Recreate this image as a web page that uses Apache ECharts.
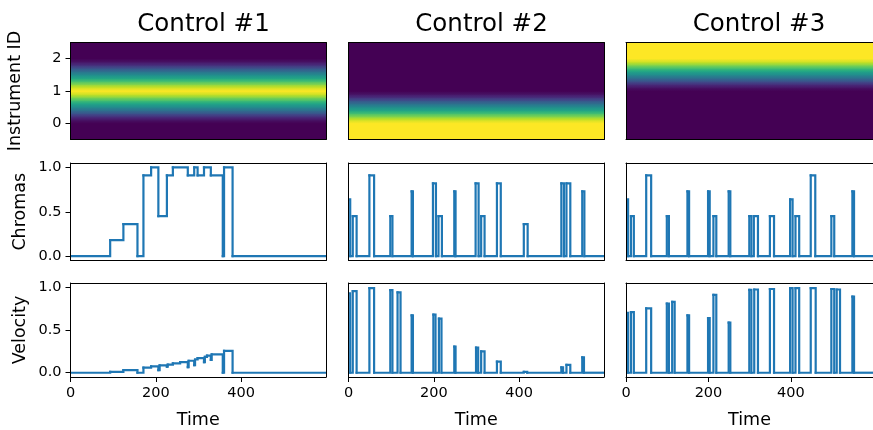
<!DOCTYPE html>
<html><head><meta charset="utf-8">
<script src="https://cdn.jsdelivr.net/npm/echarts@6/dist/echarts.min.js"></script>
<style>html,body{margin:0;padding:0;background:#fff}#c{width:873px;height:430px}</style>
</head><body><div id="c"></div>
<script>
// ---------- data ----------
const titles = ['Control #1', 'Control #2', 'Control #3'];
const rowNames = ['Instrument ID', 'Chromas', 'Velocity'];
const timeTicks = [0, 200, 400];
const unitTicks = [0, 0.5, 1];
const instrumentTicks = [0, 1, 2];
const timeMax = 599;

// heat-map rows (instrument axis) and intensity profiles
const instrumentY = [-0.5,-0.4,-0.3,-0.2,-0.1,0,0.1,0.2,0.3,0.4,0.5,0.6,0.7,0.8,0.9,1.0,
  1.1,1.2,1.3,1.4,1.5,1.6,1.7,1.8,1.9,2.0,2.1,2.2,2.3,2.4,2.5];
const profile1 = [0,0,0,0,0,0,0.05,0.13,0.25,0.37,0.48,0.58,0.7,0.82,0.93,1,
  0.93,0.82,0.7,0.58,0.48,0.37,0.25,0.13,0.05,0,0,0,0,0,0];
const profile2 = [1,1,1,1,1,1,0.93,0.82,0.7,0.58,0.48,0.37,0.25,0.13,0.05,0,
  0,0,0,0,0,0,0,0,0,0,0,0,0,0,0];
const profile3 = [0,0,0,0,0,0,0,0,0,0,0,0,0,0,0,0,
  0.05,0.13,0.25,0.37,0.48,0.58,0.7,0.82,0.93,1,1,1,1,1,1];

// step series: [time, value] change points
const chroma1 = [[0,0],[93,0.18],[124,0.36],[157,0],[171,0.91],[189,1],[206,0.45],[226,0.91],[240,1],
  [275,0.91],[290,1],[298,0.91],[313,1],[329,0.91],[357,0],[360,1],[380,0],[599,0]];
const velocity1 = [[0,0],[93,0.01],[124,0.03],[157,0],[171,0.06],[189,0.075],[206,0.03],[209,0.085],
  [226,0.07],[228,0.095],[240,0.11],[257,0.125],[275,0.065],[277,0.14],[290,0.09],[292,0.155],[298,0.17],
  [313,0.125],[315,0.185],[320,0.2],[329,0.15],[331,0.215],[357,0],[360,0.255],[380,0],[599,0]];
const chroma2 = [[0,0.64],[4,0],[10,0.45],[19,0],[49,0.91],[60,0],[98,0.45],[103,0],[148,0.73],[151,0],
  [198,0.82],[205,0],[211,0.45],[219,0],[248,0.73],[251,0],[298,0.82],[305,0],[311,0.45],[319,0],
  [348,0.82],[357,0],[411,0.36],[420,0],[499,0.82],[505,0],[511,0.82],[520,0],[548,0.73],[553,0],[599,0]];
const velocity2 = [[0,0.93],[4,0],[10,0.955],[19,0],[49,0.99],[60,0],[98,0.966],[103,0],[115,0.94],[122,0],
  [148,0.67],[151,0],[199,0.68],[204,0],[212,0.634],[218,0],[248,0.306],[251,0],[299,0.295],[304,0],
  [311,0.25],[319,0],[348,0.13],[357,0],[411,0.011],[419,0],[499,0.063],[503,0],[511,0.093],[520,0],
  [548,0.18],[552,0],[599,0]];
const chroma3 = [[0,0.64],[5,0],[12,0.45],[19,0],[49,0.91],[61,0],[99,0.45],[104,0],[149,0.73],[153,0],
  [199,0.73],[203,0],[212,0.45],[219,0],[249,0.73],[253,0],[299,0.45],[304,0],[310,0.45],[320,0],
  [349,0.45],[359,0],[398,0.64],[404,0],[411,0.45],[420,0],[448,0.91],[459,0],[498,0.45],[505,0],
  [549,0.73],[553,0],[599,0]];
const velocity3 = [[0,0.70],[5,0],[12,0.71],[19,0],[49,0.754],[61,0],[99,0.81],[104,0],[112,0.83],[118,0],
  [149,0.67],[153,0],[199,0.64],[203,0],[212,0.91],[219,0],[249,0.586],[253,0],[299,0.97],[304,0],
  [311,0.974],[320,0],[349,0.98],[359,0],[398,0.99],[404,0],[411,0.99],[420,0],[448,0.99],[460,0],
  [498,0.98],[505,0],[511,0.974],[519,0],[549,0.89],[553,0],[599,0]];

const profiles = [profile1, profile2, profile3];
const chromas = [chroma1, chroma2, chroma3];
const velocities = [velocity1, velocity2, velocity3];

// ---------- layout / style ----------
const FONT = 'DejaVu Sans';
const colLeft = [70.5, 348.5, 626];
const colCenter = [198.5, 476.5, 754];
const rowTop = [42.5, 163, 283];
const rowH = [97, 97.5, 98];
const panelW = 255.5;
const LINE = '#1f77b4';

const VIR = ['#440154','#482475','#414487','#355f8d','#2a788e','#21918c','#22a884','#44bf70','#7ad151','#bddf26','#fde725'];
function hex2rgb(h){return [parseInt(h.slice(1,3),16),parseInt(h.slice(3,5),16),parseInt(h.slice(5,7),16)];}
const VIRRGB = VIR.map(hex2rgb);
function vir(v){
  v = Math.max(0, Math.min(1, v));
  const p = v * 10; const i = Math.min(9, Math.floor(p)); const f = p - i;
  const a = VIRRGB[i], b = VIRRGB[i+1];
  return 'rgb(' + [0,1,2].map(k => Math.round(a[k] + (b[k]-a[k])*f)).join(',') + ')';
}

// step segment renderer: hold value until the next change point, then jump
function stepItem(params, api) {
  const t0 = api.value(0), v0 = api.value(1), t1 = api.value(2), v1 = api.value(3);
  const a = api.coord([t0, v0]), b = api.coord([t1, v0]), c = api.coord([t1, v1]);
  return {type: 'polyline', shape: {points: [a, b, c]},
    style: {stroke: LINE, lineWidth: 2.2, fill: null, lineJoin: 'miter', miterLimit: 10, lineCap: 'square'}};
}

const grid = [], xAxis = [], yAxis = [], series = [];
for (let r = 0; r < 3; r++) {
  for (let c = 0; c < 3; c++) {
    const gi = r * 3 + c;
    grid.push({left: colLeft[c], top: rowTop[r], width: panelW, height: rowH[r]});
    const lineStyle = {color: '#000', width: 1};
    xAxis.push({
      type: 'value', gridIndex: gi, min: 0, max: timeMax, position: 'bottom', z: 5,
      axisLine: {show: true, onZero: false, lineStyle},
      axisTick: {show: r === 2, customValues: timeTicks, length: 5, lineStyle},
      axisLabel: {show: r === 2, customValues: timeTicks, fontFamily: FONT, fontSize: 14.5, color: '#000', margin: 9},
      splitLine: {show: false},
      name: r === 2 ? 'Time' : '', nameLocation: 'middle', nameGap: 34,
      nameTextStyle: {fontFamily: FONT, fontSize: 17.5, color: '#000'}
    });
    xAxis.push({
      type: 'value', gridIndex: gi, min: 0, max: timeMax, position: 'top', z: 5,
      axisLine: {show: true, onZero: false, lineStyle},
      axisTick: {show: false}, axisLabel: {show: false}, splitLine: {show: false}
    });
    const isHeat = r === 0;
    const yt = isHeat ? instrumentTicks : unitTicks;
    yAxis.push({
      type: 'value', gridIndex: gi, position: 'left', z: 5,
      min: isHeat ? -0.5 : -0.05, max: isHeat ? 2.5 : 1.05,
      axisLine: {show: true, onZero: false, lineStyle},
      axisTick: {show: c === 0, customValues: yt, length: 5, lineStyle},
      axisLabel: {show: c === 0, customValues: yt, fontFamily: FONT, fontSize: 14.5, color: '#000', margin: 9,
        formatter: v => isHeat ? String(v) : Number(v).toFixed(1)},
      splitLine: {show: false},
      name: c === 0 ? rowNames[r] : '', nameLocation: 'middle', nameRotate: 90,
      nameGap: isHeat ? 46 : 41,
      nameTextStyle: {fontFamily: FONT, fontSize: 17.5, color: '#000'}
    });
    yAxis.push({
      type: 'value', gridIndex: gi, position: 'right', z: 5,
      min: isHeat ? -0.5 : -0.05, max: isHeat ? 2.5 : 1.05,
      axisLine: {show: true, onZero: false, lineStyle},
      axisTick: {show: false}, axisLabel: {show: false}, splitLine: {show: false}
    });
    if (isHeat) {
      const prof = profiles[c];
      const rows = [];
      for (let i = 0; i < instrumentY.length - 1; i++) {
        rows.push([instrumentY[i], instrumentY[i+1], prof[i], prof[i+1]]);
      }
      series.push({
        type: 'custom', xAxisIndex: 2*gi, yAxisIndex: 2*gi, clip: true, silent: true,
        data: rows,
        renderItem: function (params, api) {
          const cs = params.coordSys;
          const yb = api.value(0), ytp = api.value(1), vb = api.value(2), vt = api.value(3);
          const pb = api.coord([0, yb])[1], pt = api.coord([0, ytp])[1];
          const stops = [];
          for (let k = 0; k <= 4; k++) { const f = k / 4; stops.push({offset: f, color: vir(vt + (vb - vt) * f)}); }
          return {type: 'rect', shape: {x: cs.x, y: pt - 0.4, width: cs.width, height: pb - pt + 0.8},
            style: {fill: {type: 'linear', x: 0, y: 0, x2: 0, y2: 1, colorStops: stops}}};
        }
      });
    } else {
      const d = r === 1 ? chromas[c] : velocities[c];
      const segs = [];
      for (let i = 0; i < d.length - 1; i++) segs.push([d[i][0], d[i][1], d[i+1][0], d[i+1][1]]);
      series.push({
        type: 'custom', xAxisIndex: 2*gi, yAxisIndex: 2*gi, clip: true, silent: true,
        data: segs, renderItem: stepItem
      });
    }
  }
}

const title = titles.map((t, c) => ({
  text: t, left: colCenter[c], top: 7, textAlign: 'center',
  textStyle: {fontFamily: FONT, fontSize: 24.5, fontWeight: 'normal', color: '#000'}
}));

const chart = echarts.init(document.getElementById('c'), null, {renderer: 'canvas'});
chart.setOption({animation: false, backgroundColor: '#fff', title, grid, xAxis, yAxis, series});
</script>
</body></html>
